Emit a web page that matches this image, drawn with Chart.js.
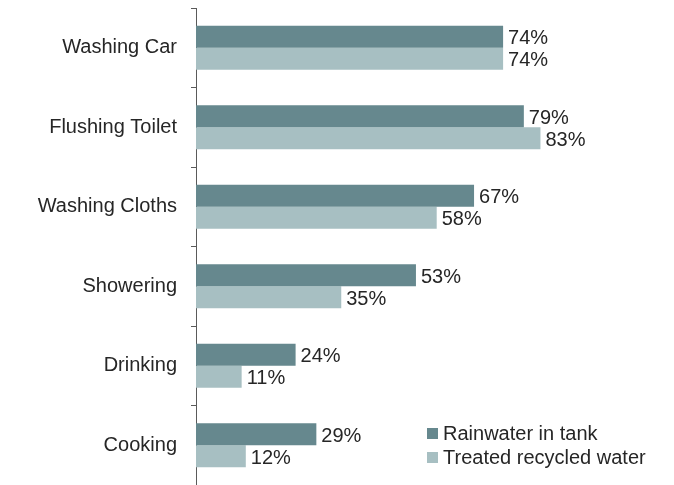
<!DOCTYPE html>
<html>
<head>
<meta charset="utf-8">
<script src="https://cdn.jsdelivr.net/npm/chart.js@4/dist/chart.umd.min.js"></script>
<style>
  html, body { margin: 0; padding: 0; background: #ffffff; }
  #wrap { width: 674px; height: 485px; position: relative; }
</style>
</head>
<body>
<div id="wrap"><canvas id="c"></canvas></div>
<script>
const categories = ["Washing Car", "Flushing Toilet", "Washing Cloths", "Showering", "Drinking", "Cooking"];
const seriesNames = ["Rainwater in tank", "Treated recycled water"];
const rainwater = [74, 79, 67, 53, 24, 29];
const recycled = [74, 83, 58, 35, 11, 12];

const colors = ["#66888e", "#a7bfc2"];
const FONT = "'Liberation Sans', Arial, sans-serif";
const TEXT = "#262626";

const valueLabels = {
  id: "valueLabels",
  afterDatasetsDraw(chart) {
    const ctx = chart.ctx;
    ctx.save();
    ctx.font = "20px " + FONT;
    ctx.fillStyle = TEXT;
    ctx.textAlign = "left";
    ctx.textBaseline = "middle";
    chart.data.datasets.forEach((ds, di) => {
      const meta = chart.getDatasetMeta(di);
      meta.data.forEach((el, i) => {
        ctx.fillText(ds.data[i] + "%", el.x + 5, el.y + 2);
      });
    });
    ctx.restore();
  }
};

const customLegend = {
  id: "customLegend",
  afterDraw(chart) {
    const ctx = chart.ctx;
    ctx.save();
    ctx.font = "20px " + FONT;
    ctx.textAlign = "left";
    ctx.textBaseline = "middle";
    const x = 427, ys = [433, 457];
    chart.data.datasets.forEach((ds, di) => {
      ctx.fillStyle = ds.backgroundColor;
      ctx.fillRect(x, ys[di] - 5, 11, 11);
      ctx.fillStyle = TEXT;
      ctx.fillText(ds.label, x + 16, ys[di] + 1);
    });
    ctx.restore();
  }
};

new Chart(document.getElementById("c"), {
  type: "bar",
  data: {
    labels: categories,
    datasets: [
      { label: seriesNames[0], data: rainwater, backgroundColor: colors[0] },
      { label: seriesNames[1], data: recycled, backgroundColor: colors[1] }
    ]
  },
  options: {
    indexAxis: "y",
    responsive: true,
    maintainAspectRatio: false,
    animation: false,
    categoryPercentage: 0.5535,
    barPercentage: 1,
    layout: { padding: { top: 8, right: 63, bottom: 0, left: 0 } },
    plugins: {
      legend: { display: false },
      tooltip: { enabled: false }
    },
    scales: {
      x: { display: false, min: 0, max: 100 },
      y: {
        afterFit(scale) {
          scale.width = 196;
          scale.paddingTop = 0;
          scale.paddingBottom = 0;
        },
        border: { display: true, color: "#5a5a5a", width: 1 },
        grid: {
          offset: true,
          drawOnChartArea: false,
          drawTicks: true,
          tickLength: 5,
          color: "#5a5a5a",
          lineWidth: 1
        },
        ticks: {
          padding: 14,
          color: TEXT,
          font: { family: FONT, size: 20 }
        }
      }
    }
  },
  plugins: [valueLabels, customLegend]
});
</script>
</body>
</html>
